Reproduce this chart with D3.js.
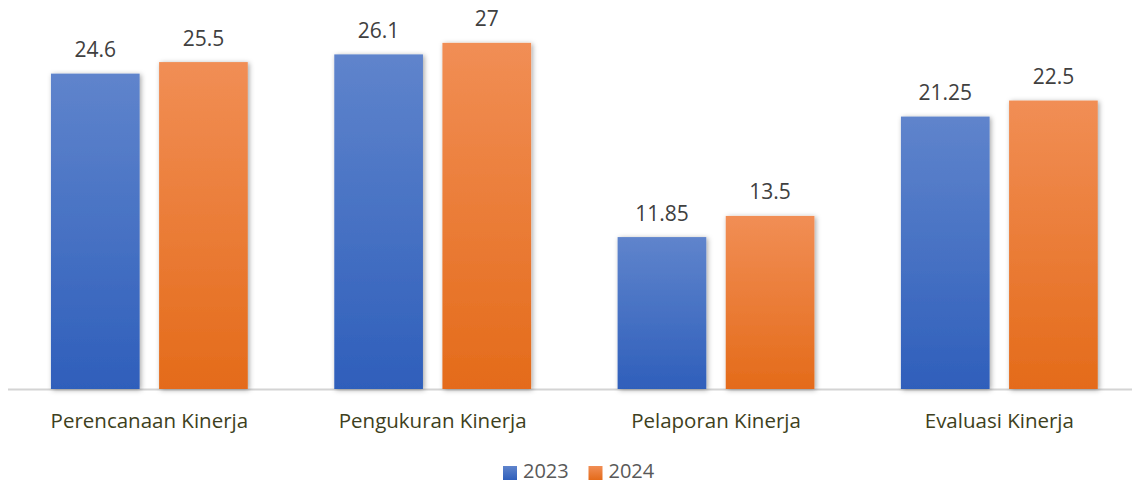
<!DOCTYPE html>
<html>
<head>
<meta charset="utf-8">
<script src="https://cdn.jsdelivr.net/npm/d3@7"></script>
<style>
  html, body { margin: 0; padding: 0; background: #fff; }
  svg { display: block; }
</style>
</head>
<body>
<svg id="chart" width="1132" height="483"></svg>
<script>
const categories = ["Perencanaan Kinerja", "Pengukuran Kinerja", "Pelaporan Kinerja", "Evaluasi Kinerja"];
const seriesNames = ["2023", "2024"];
const values2023 = [24.6, 26.1, 11.85, 21.25];
const values2024 = [25.5, 27, 13.5, 22.5];
const valueLabels2023 = ["24.6", "26.1", "11.85", "21.25"];
const valueLabels2024 = ["25.5", "27", "13.5", "22.5"];

const seriesValues = [values2023, values2024];
const seriesLabels = [valueLabels2023, valueLabels2024];

const svg = d3.select("#chart");
const W = 1132, H = 483;
const font = "'Open Sans', 'Noto Sans', sans-serif";

const defs = svg.append("defs");
const grads = [
  { id: "gBlue", top: "#5f84cc", bottom: "#2f5fbb" },
  { id: "gOrange", top: "#f18e55", bottom: "#e46b1a" }
];
grads.forEach(g => {
  const lg = defs.append("linearGradient").attr("id", g.id)
    .attr("x1", 0).attr("y1", 0).attr("x2", 0).attr("y2", 1);
  lg.append("stop").attr("offset", "0%").attr("stop-color", g.top);
  lg.append("stop").attr("offset", "100%").attr("stop-color", g.bottom);
});
const f = defs.append("filter").attr("id", "shadow")
  .attr("x", "-20%").attr("y", "-10%").attr("width", "140%").attr("height", "120%");
f.append("feDropShadow").attr("dx", 1.5).attr("dy", 1).attr("stdDeviation", 2.5)
  .attr("flood-color", "#000").attr("flood-opacity", 0.35);

const y = d3.scaleLinear().domain([0, 30]).range([389, 4.4]);
const x0 = d3.scaleBand().domain(categories).range([7.7, 1141]).padding(0);
const x1 = d3.scaleBand().domain(seriesNames).range([0, x0.bandwidth()])
  .paddingInner(0.18).paddingOuter(0.40);

// baseline
svg.append("line")
  .attr("x1", 8).attr("x2", W)
  .attr("y1", y(0) + 0.5).attr("y2", y(0) + 0.5)
  .attr("stroke", "#d4d4d4").attr("stroke-width", 2);

const groups = svg.selectAll("g.cat").data(categories).join("g")
  .attr("class", "cat")
  .attr("transform", d => `translate(${x0(d)},0)`);

seriesNames.forEach((s, si) => {
  groups.append("rect")
    .attr("x", x1(s))
    .attr("width", x1.bandwidth())
    .attr("y", (d, i) => y(seriesValues[si][i]))
    .attr("height", (d, i) => y(0) - y(seriesValues[si][i]))
    .attr("fill", `url(#${grads[si].id})`)
    .attr("filter", "url(#shadow)");
  groups.append("text")
    .attr("x", x1(s) + x1.bandwidth() / 2)
    .attr("y", (d, i) => y(seriesValues[si][i]) - 16.5)
    .attr("text-anchor", "middle")
    .attr("font-family", font)
    .attr("font-size", 21)
    .attr("fill", "#404040")
    .text((d, i) => seriesLabels[si][i]);
});

groups.append("text")
  .attr("x", x0.bandwidth() / 2)
  .attr("y", 428)
  .attr("text-anchor", "middle")
  .attr("font-family", font)
  .attr("font-size", 20.5)
  .attr("fill", "#3e3f20")
  .text(d => d);

// legend
const legendX = [503, 588.5];
const leg = svg.selectAll("g.leg").data(seriesNames).join("g")
  .attr("class", "leg")
  .attr("transform", (d, i) => `translate(${legendX[i]},466)`);
leg.append("rect").attr("width", 14).attr("height", 14)
  .attr("fill", (d, i) => `url(#${grads[i].id})`);
leg.append("text").attr("x", 20).attr("y", 11.5)
  .attr("font-family", font).attr("font-size", 20)
  .attr("fill", "#595959")
  .text(d => d);
</script>
</body>
</html>
